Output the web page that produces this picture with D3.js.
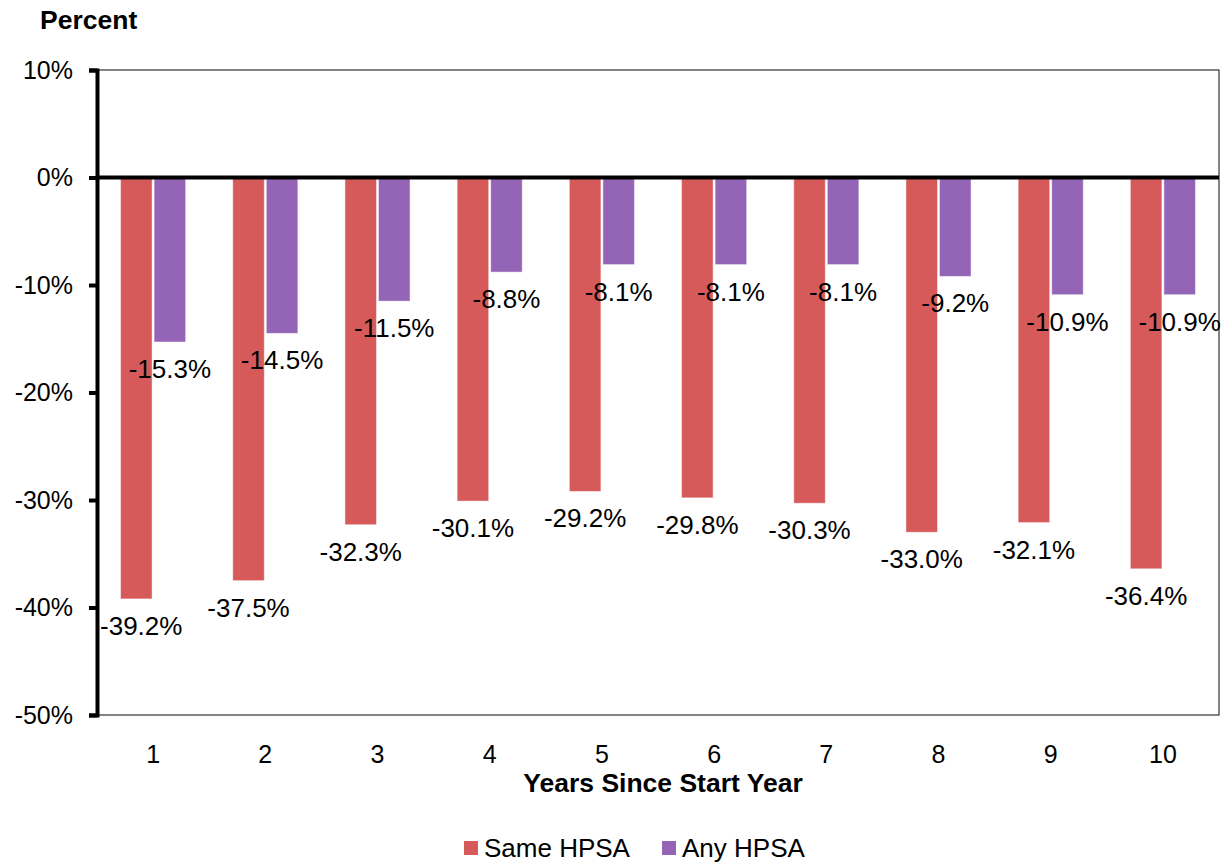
<!DOCTYPE html>
<html>
<head>
<meta charset="utf-8">
<script src="https://cdn.jsdelivr.net/npm/d3@7"></script>
<style>
  html, body { margin: 0; padding: 0; background: #fff; }
  svg { display: block; font-family: "Liberation Sans", Arial, sans-serif; }
</style>
</head>
<body>
<svg id="chart" width="1228" height="863"></svg>
<script>
// Years since start year
const categories = ["1", "2", "3", "4", "5", "6", "7", "8", "9", "10"];
const seriesNames = ["Same HPSA", "Any HPSA"];
// Percent change, by series
const sameHPSA = [-39.2, -37.5, -32.3, -30.1, -29.2, -29.8, -30.3, -33.0, -32.1, -36.4];
const anyHPSA  = [-15.3, -14.5, -11.5, -8.8, -8.1, -8.1, -8.1, -9.2, -10.9, -10.9];
const yTicks = [10, 0, -10, -20, -30, -40, -50];
const colors = ["#d65a5a", "#9465b6"];

const svg = d3.select("#chart");
const plotLeft = 97, plotRight = 1219, plotTop = 70, plotBottom = 715;

const x0 = d3.scaleBand().domain(categories).range([plotLeft, plotRight])
  .paddingInner(0.42).paddingOuter(0.21);
const x1 = d3.scaleBand().domain(seriesNames).range([0, x0.bandwidth()])
  .paddingInner(0.06);
const y = d3.scaleLinear().domain([-50, 10]).range([plotBottom, plotTop]);

const rows = categories.map((c, i) => ({
  cat: c,
  vals: [
    { s: seriesNames[0], v: sameHPSA[i], color: colors[0] },
    { s: seriesNames[1], v: anyHPSA[i], color: colors[1] }
  ]
}));

// plot frame
svg.append("rect")
  .attr("x", plotLeft).attr("y", plotTop)
  .attr("width", plotRight - plotLeft).attr("height", plotBottom - plotTop)
  .attr("fill", "none").attr("stroke", "#333").attr("stroke-width", 1.2);

// bars
const groups = svg.append("g").selectAll("g").data(rows).join("g")
  .attr("transform", d => `translate(${x0(d.cat)},0)`);

groups.selectAll("rect").data(d => d.vals).join("rect")
  .attr("x", d => x1(d.s))
  .attr("width", x1.bandwidth())
  .attr("y", d => y(Math.max(0, d.v)))
  .attr("height", d => Math.abs(y(d.v) - y(0)))
  .attr("fill", d => d.color)
  .attr("stroke", "rgba(255,255,255,0.45)")
  .attr("stroke-width", 1);

// value labels, kept clear of the y axis
groups.selectAll("text").data(d => d.vals).join("text")
  .attr("x", d => {
    const cx = x1(d.s) + x1.bandwidth() / 2;
    return cx;
  })
  .attr("y", d => y(d.v) + 36)
  .attr("text-anchor", "middle")
  .attr("font-size", 26)
  .attr("fill", "#000")
  .text(d => d.v.toFixed(1) + "%")
  .each(function () {
    // shift any label that would cross the axis line to its right
    const b = this.getBBox();
    const gx = +this.parentNode.getAttribute("transform").match(/translate\(([-\d.]+)/)[1];
    const overlap = plotLeft + 3 - (gx + b.x);
    if (overlap > 0) d3.select(this).attr("x", +d3.select(this).attr("x") + overlap);
  });

// zero line
svg.append("line")
  .attr("x1", plotLeft).attr("x2", plotRight)
  .attr("y1", y(0)).attr("y2", y(0))
  .attr("stroke", "#000").attr("stroke-width", 4);

// y axis
const yAxis = d3.axisLeft(y).tickValues(yTicks)
  .tickFormat(d => d + "%").tickSize(8).tickPadding(16);
const gy = svg.append("g").attr("transform", `translate(${plotLeft},0)`).call(yAxis);
gy.select(".domain").attr("stroke", "#000").attr("stroke-width", 4);
gy.selectAll(".tick line").attr("stroke", "#000").attr("stroke-width", 4);
gy.selectAll(".tick text").attr("font-size", 25).attr("fill", "#000")
  .attr("font-family", "Liberation Sans, Arial, sans-serif");

// x axis labels
const xAxis = d3.axisBottom(x0).tickSize(0).tickPadding(30);
const gx = svg.append("g").attr("transform", `translate(0,${plotBottom})`).call(xAxis);
gx.select(".domain").remove();
gx.selectAll(".tick text").attr("font-size", 25).attr("fill", "#000")
  .attr("font-family", "Liberation Sans, Arial, sans-serif");

// titles
svg.append("text")
  .attr("x", 40).attr("y", 29)
  .attr("font-size", 26.5).attr("font-weight", "bold")
  .text("Percent");

svg.append("text")
  .attr("x", 663).attr("y", 792)
  .attr("text-anchor", "middle")
  .attr("font-size", 26.5).attr("font-weight", "bold")
  .text("Years Since Start Year");

// legend
const legendItems = [
  { name: seriesNames[0], color: colors[0], x: 464 },
  { name: seriesNames[1], color: colors[1], x: 662 }
];
const lg = svg.append("g").selectAll("g").data(legendItems).join("g")
  .attr("transform", d => `translate(${d.x},0)`);
lg.append("rect").attr("x", 0).attr("y", 841).attr("width", 14).attr("height", 14)
  .attr("fill", d => d.color);
lg.append("text").attr("x", 20).attr("y", 857)
  .attr("font-size", 26).text(d => d.name);
</script>
</body>
</html>
